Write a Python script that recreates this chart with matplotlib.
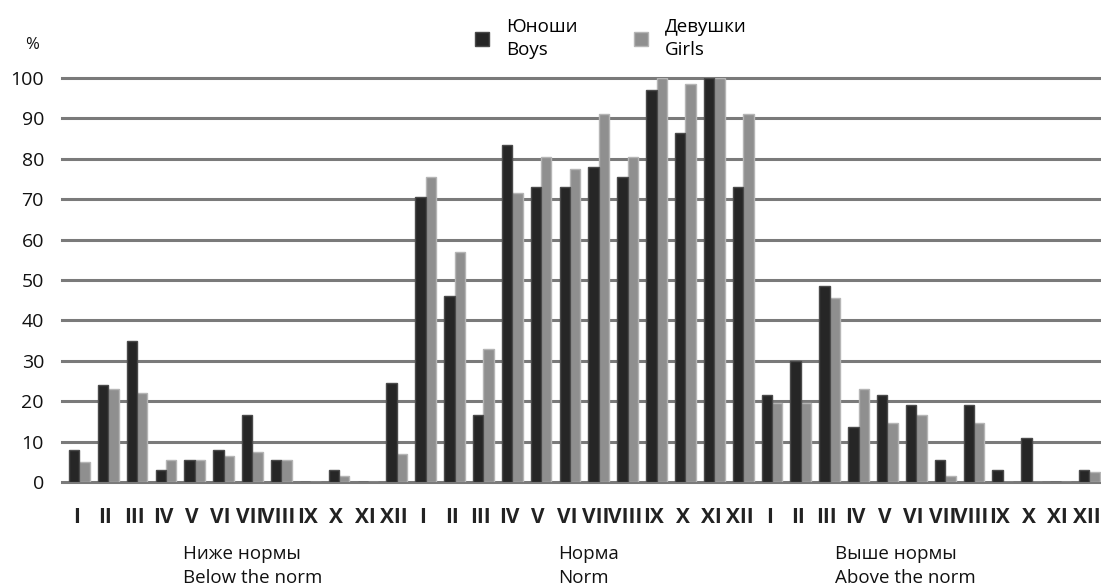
import numpy as np
import matplotlib
matplotlib.use("Agg")
import matplotlib.pyplot as plt
from matplotlib.patches import Patch

plt.rcParams['font.family'] = ['Open Sans', 'DejaVu Sans']

# Data (percent)
months = ["I", "II", "III", "IV", "V", "VI", "VII", "VIII", "IX", "X", "XI", "XII"]
groups = ["Ниже нормы\nBelow the norm", "Норма\nNorm", "Выше нормы\nAbove the norm"]

boys_below = [8, 24, 35, 3, 5.5, 8, 16.5, 5.5, 0, 3, 0, 24.5]
girls_below = [5, 23, 22, 5.5, 5.5, 6.5, 7.5, 5.5, 0, 1.5, 0, 7]
boys_norm = [70.5, 46, 16.5, 83.5, 73, 73, 78, 75.5, 97, 86.5, 100, 73]
girls_norm = [75.5, 57, 33, 71.5, 80.5, 77.5, 91, 80.5, 100, 98.5, 100, 91]
boys_above = [21.5, 30, 48.5, 13.5, 21.5, 19, 5.5, 19, 3, 11, 0, 3]
girls_above = [19.5, 19.5, 45.5, 23, 14.5, 16.5, 1.5, 14.5, 0, 0, 0, 2.5]

boys = boys_below + boys_norm + boys_above
girls = girls_below + girls_norm + girls_above
labels = months * 3
x = np.arange(len(labels))

fig = plt.figure(figsize=(11.01, 5.85), dpi=100)
ax = fig.add_axes([62 / 1101, 1 - 482 / 585, 1 - 62 / 1101, 404 / 585])

# grid lines
for v in range(0, 101, 10):
    ax.axhline(v, color="#7a7a7a", lw=2.2, zorder=1, clip_on=False)

w = 0.36
ax.bar(x - 0.08, boys, width=w, color="#262626", edgecolor="#4a4a4a", lw=1.0, zorder=3)
ax.bar(x + 0.28, girls, width=w, color="#8f8f8f", edgecolor="#b5b5b5", lw=1.0, zorder=2)

ax.set_xlim(-0.5, len(labels) - 0.5)
ax.set_ylim(0, 100)
ax.set_yticks(range(0, 101, 10))
ax.tick_params(axis="y", length=0, pad=13, labelsize=14, labelcolor="#111111")
ax.set_xticks(x)
ax.set_xticklabels(labels, fontsize=15, fontweight="bold", color="#222222")
ax.tick_params(axis="x", length=0, pad=18)
for s in ax.spines.values():
    s.set_visible(False)

# group captions under the month labels
for i, g in enumerate(groups):
    left = [4.2, 17.2, 26.8][i]
    ax.text(left - 0.5, -15.6, g, ha="left", va="top", fontsize=13.5,
            linespacing=1.42, color="#111111", clip_on=False)

fig.text(32 / 1101, 1 - 45 / 585, "%", ha="center", va="center", fontsize=12, color="#111111")

handles = [Patch(facecolor="#262626", edgecolor="#4a4a4a"),
           Patch(facecolor="#8f8f8f", edgecolor="#b5b5b5")]
leg = fig.legend(handles, ["Юноши\nBoys", "Девушки\nGirls"], loc="upper left",
                 bbox_to_anchor=(458 / 1101, 1 - 1 / 585), ncol=2, frameon=False,
                 fontsize=13.5, handlelength=0.75, handleheight=0.75, columnspacing=3.0,
                 handletextpad=0.9)
for t in leg.get_texts():
    t.set_linespacing(1.35)

fig.savefig("out.png", dpi=100)
